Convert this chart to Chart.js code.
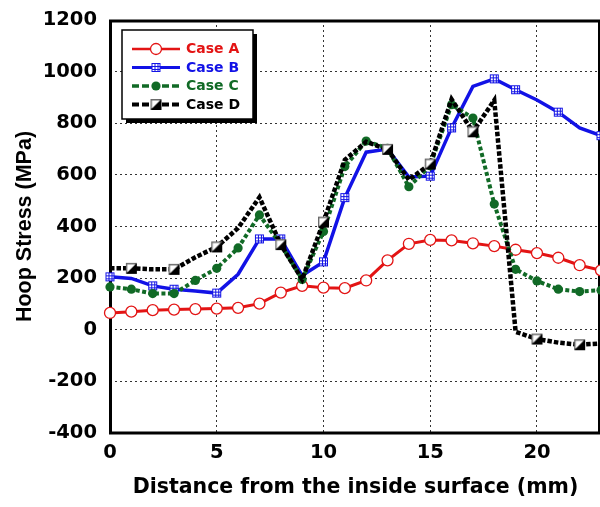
<!DOCTYPE html>
<html>
<head>
<meta charset="utf-8">
<script src="https://cdn.jsdelivr.net/npm/chart.js@4/dist/chart.umd.min.js"></script>
<style>
  html, body { margin: 0; padding: 0; background: #ffffff; overflow: hidden; }
  #chart { display: block; }
</style>
</head>
<body>
<canvas id="chart" width="601" height="507"></canvas>
<script>
// Hoop stress through the wall thickness for four cases
const distance = [0, 1, 2, 3, 4, 5, 6, 7, 8, 9, 10, 11, 12, 13, 14, 15, 16, 17, 18, 19, 20, 21, 22, 23];

const caseA = [65, 70, 76, 78, 80, 82, 85, 101, 144, 170, 163, 161, 191, 269, 333, 348, 346, 335, 324, 310, 297, 279, 250, 230];
const caseB = [205, 199, 170, 157, 150, 142, 215, 352, 352, 210, 263, 512, 688, 700, 592, 595, 782, 943, 972, 930, 890, 843, 782, 752];
const caseC = [166, 157, 140, 140, 191, 238, 317, 445, 330, 195, 381, 632, 731, 703, 554, 635, 872, 820, 487, 234, 189, 157, 148, 153];
const caseD = [238, 238, 234, 234, 281, 321, 394, 513, 330, 195, 417, 658, 728, 699, 581, 642, 893, 767, 889, -8, -36, -50, -58, -53];

const seriesNames = ['Case A', 'Case B', 'Case C', 'Case D'];
const xTickValues = [0, 5, 10, 15, 20];
const yTickValues = [-400, -200, 0, 200, 400, 600, 800, 1000, 1200];

// Which points of each curve carry a symbol
const symbolsB = [0, 2, 3, 5, 7, 8, 10, 11, 15, 16, 18, 19, 21, 23];
const symbolsD = [1, 3, 5, 8, 10, 13, 15, 17, 20, 22];

const RED = '#e31414';
const BLUE = '#1212e6';
const GREEN = '#116a26';
const BLACK = '#000000';

const TICK_FONT = '"DejaVu Sans", sans-serif';
const TEXT_FONT = '"Liberation Sans", Arial, sans-serif';

// Square symbol with an inner 3x3 grid
function gridSquare(size, color) {
  const c = document.createElement('canvas');
  c.width = size + 2; c.height = size + 2;
  const g = c.getContext('2d');
  g.fillStyle = '#ffffff';
  g.fillRect(1, 1, size, size);
  g.strokeStyle = color;
  g.lineWidth = 1;
  g.strokeRect(1.5, 1.5, size - 1, size - 1);
  const step = (size - 1) / 3;
  g.beginPath();
  for (let k = 1; k <= 2; k++) {
    const p = Math.round(1.5 + step * k) + 0.5;
    g.moveTo(p, 1.5); g.lineTo(p, size + 0.5);
    g.moveTo(1.5, p); g.lineTo(size + 0.5, p);
  }
  g.stroke();
  return c;
}

// Square symbol, white upper-left half and black lower-right half
function halfSquare(size) {
  const c = document.createElement('canvas');
  c.width = size + 2; c.height = size + 2;
  const g = c.getContext('2d');
  g.fillStyle = '#ffffff';
  g.fillRect(1, 1, size, size);
  g.fillStyle = '#000000';
  g.beginPath();
  g.moveTo(1, size + 1);
  g.lineTo(size + 1, 1);
  g.lineTo(size + 1, size + 1);
  g.closePath();
  g.fill();
  g.strokeStyle = '#6b6b6b';
  g.lineWidth = 1.4;
  g.beginPath();
  g.moveTo(1.7, size + 0.3); g.lineTo(1.7, 1.7); g.lineTo(size + 0.3, 1.7);
  g.stroke();
  g.strokeStyle = '#000000';
  g.beginPath();
  g.moveTo(size + 0.3, 1.7); g.lineTo(size + 0.3, size + 0.3); g.lineTo(1.7, size + 0.3);
  g.stroke();
  return c;
}

const symB = gridSquare(9, BLUE);
const symD = halfSquare(11);

const toPoints = (vals) => vals.map((v, i) => ({ x: distance[i], y: v }));
const onlyAt = (list, r) => (ctx) => list.includes(ctx.dataIndex) ? r : 0;

const datasets = [
  {
    label: seriesNames[0],
    data: toPoints(caseA),
    borderColor: RED,
    borderWidth: 3,
    pointStyle: 'circle',
    pointRadius: 5.5,
    pointBorderWidth: 1.3,
    pointBorderColor: RED,
    pointBackgroundColor: '#ffffff',
    order: 4
  },
  {
    label: seriesNames[1],
    data: toPoints(caseB),
    borderColor: BLUE,
    borderWidth: 3.5,
    pointStyle: symB,
    pointRadius: onlyAt(symbolsB, 5),
    order: 3
  },
  {
    label: seriesNames[2],
    data: toPoints(caseC),
    borderColor: GREEN,
    borderWidth: 4,
    borderDash: [4, 2.5],
    pointStyle: 'circle',
    pointRadius: 4.6,
    pointBorderWidth: 0,
    pointBackgroundColor: GREEN,
    pointBorderColor: GREEN,
    order: 2
  },
  {
    label: seriesNames[3],
    data: toPoints(caseD),
    borderColor: BLACK,
    borderWidth: 4.5,
    borderDash: [4.5, 2],
    pointStyle: symD,
    pointRadius: onlyAt(symbolsD, 6),
    order: 1
  }
];
datasets.forEach(d => { d.tension = 0; d.fill = false; d.clip = false; });

// Heavy frame around the plotting area
const framePlugin = {
  id: 'frame',
  beforeDatasetsDraw(chart) {
    const { ctx, chartArea: a } = chart;
    ctx.save();
    ctx.strokeStyle = '#000';
    ctx.lineCap = 'square';
    ctx.lineWidth = 3;
    ctx.beginPath();
    ctx.moveTo(a.left + 0.5, a.top + 1);
    ctx.lineTo(a.left + 0.5, a.bottom);
    ctx.lineTo(a.right - 1.5, a.bottom);
    ctx.moveTo(a.left + 0.5, a.top + 1);
    ctx.lineTo(a.right - 1.5, a.top + 1);
    ctx.lineTo(a.right - 1.5, a.bottom);
    ctx.stroke();
    ctx.restore();
  }
};

// Boxed legend with a drop shadow in the upper-left corner of the plot
const legendPlugin = {
  id: 'boxLegend',
  afterDraw(chart) {
    const { ctx, chartArea: a } = chart;
    const x0 = a.left + 12, y0 = a.top + 10, w = 131, h = 89;
    ctx.save();
    ctx.fillStyle = '#000';
    ctx.fillRect(x0 + 4, y0 + 4, w, h);
    ctx.fillStyle = '#fff';
    ctx.fillRect(x0, y0, w, h);
    ctx.strokeStyle = '#000';
    ctx.lineWidth = 1.5;
    ctx.strokeRect(x0, y0, w, h);

    const colors = [RED, BLUE, GREEN, BLACK];
    const widths = [3, 3.5, 4, 4.5];
    const dashes = [[], [], [7, 3], [7, 3]];
    seriesNames.forEach((name, i) => {
      const y = y0 + 19 + i * 18.5;
      const lx0 = x0 + 10, lx1 = x0 + 58, mx = x0 + 34;
      ctx.strokeStyle = colors[i];
      ctx.lineWidth = widths[i] - 0.5;
      ctx.setLineDash(dashes[i]);
      ctx.beginPath();
      ctx.moveTo(lx0, y); ctx.lineTo(lx1, y);
      ctx.stroke();
      ctx.setLineDash([]);
      if (i === 0) {
        ctx.fillStyle = '#fff';
        ctx.strokeStyle = RED;
        ctx.lineWidth = 1.3;
        ctx.beginPath(); ctx.arc(mx, y, 5.5, 0, Math.PI * 2); ctx.fill(); ctx.stroke();
      } else if (i === 1) {
        ctx.drawImage(symB, mx - symB.width / 2, y - symB.height / 2);
      } else if (i === 2) {
        ctx.fillStyle = GREEN;
        ctx.beginPath(); ctx.arc(mx, y, 4.6, 0, Math.PI * 2); ctx.fill();
      } else {
        ctx.drawImage(symD, mx - symD.width / 2, y - symD.height / 2);
      }
      ctx.fillStyle = colors[i];
      ctx.font = 'bold 14px ' + TICK_FONT;
      ctx.textAlign = 'left';
      ctx.textBaseline = 'middle';
      ctx.fillText(name, x0 + 64, y + 0.5);
    });
    ctx.restore();
  }
};

new Chart(document.getElementById('chart'), {
  type: 'line',
  data: { datasets },
  plugins: [framePlugin, legendPlugin],
  options: {
    responsive: false,
    animation: false,
    events: [],
    layout: { autoPadding: false, padding: { top: 20, right: 0, left: 0, bottom: 0 } },
    plugins: { legend: { display: false }, tooltip: { enabled: false } },
    scales: {
      x: {
        type: 'linear',
        min: 0,
        max: 23,
        afterBuildTicks: (s) => { s.ticks = xTickValues.map(v => ({ value: v })); },
        afterFit: (s) => { s.height = 74; s.paddingLeft = 0; s.paddingRight = 0; },
        ticks: {
          padding: 8,
          color: '#000',
          font: { family: TICK_FONT, size: 19.5, weight: 'bold' },
          callback: (v) => String(v),
          maxRotation: 0
        },
        grid: { color: '#333', lineWidth: 1, drawTicks: false },
        border: { display: false, dash: [2, 3] },
        title: {
          display: true,
          text: 'Distance from the inside surface (mm)',
          color: '#000',
          font: { family: TICK_FONT, size: 20.5, weight: 'bold' },
          padding: { top: 0, bottom: 7 }
        }
      },
      y: {
        type: 'linear',
        min: -400,
        max: 1200,
        afterBuildTicks: (s) => { s.ticks = yTickValues.map(v => ({ value: v })); },
        afterFit: (s) => { s.width = 110; s.paddingTop = 0; s.paddingBottom = 0; },
        ticks: {
          padding: 13,
          color: '#000',
          font: { family: TICK_FONT, size: 19.5, weight: 'bold' },
          callback: (v) => String(v)
        },
        grid: { color: '#333', lineWidth: 1, drawTicks: false },
        border: { display: false, dash: [2, 3] },
        title: {
          display: true,
          text: 'Hoop Stress (MPa)',
          color: '#000',
          font: { family: TEXT_FONT, size: 21.5, weight: 'bold' },
          padding: { top: 12, bottom: 0 }
        }
      }
    }
  }
});
</script>
</body>
</html>
